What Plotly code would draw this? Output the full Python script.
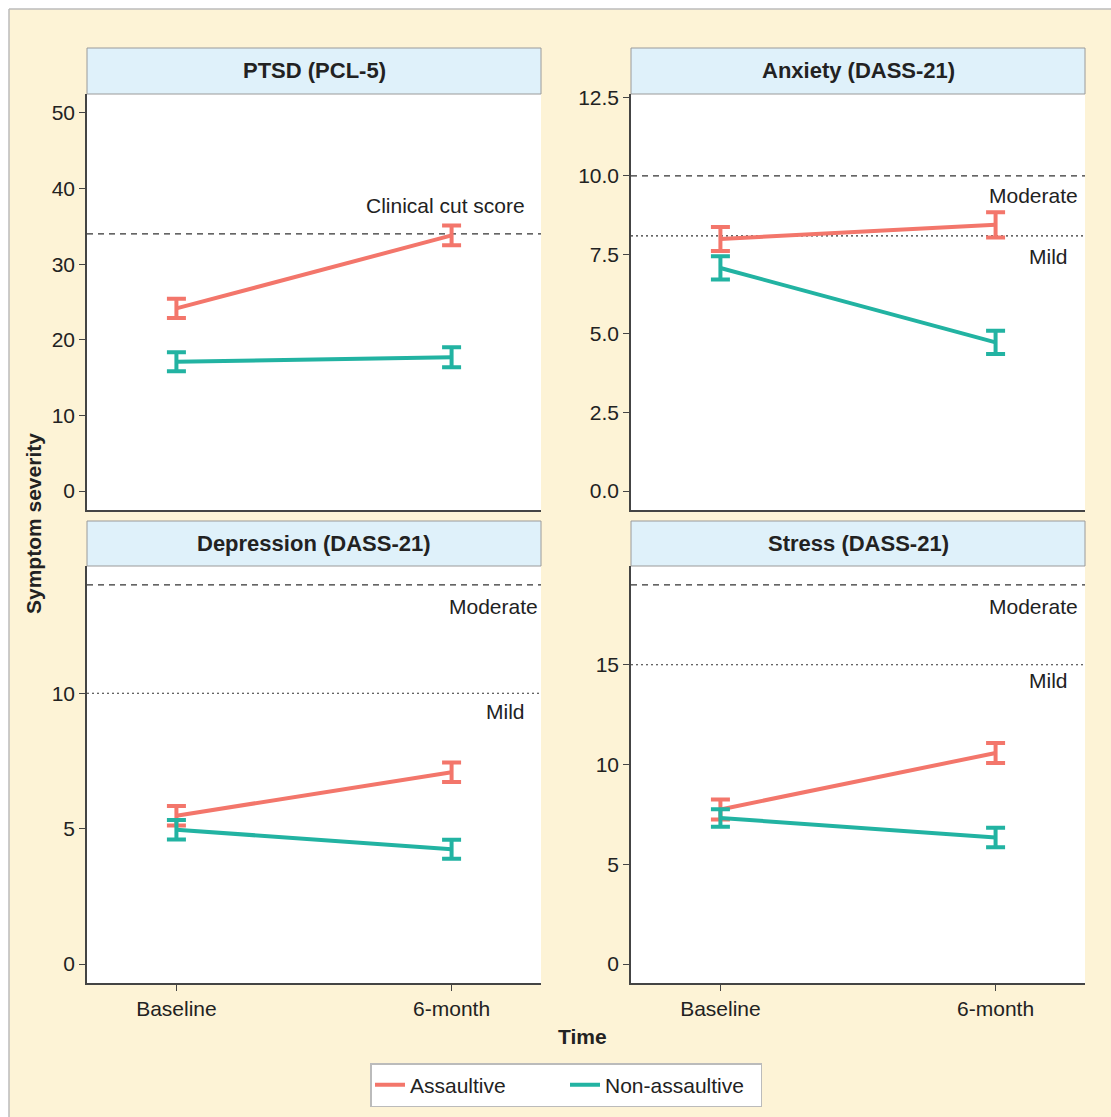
import plotly.graph_objects as go

# ---------------- data ----------------
times = ["Baseline", "6-month"]
groups = ["Assaultive", "Non-assaultive"]

panel_titles = ["PTSD (PCL-5)", "Anxiety (DASS-21)", "Depression (DASS-21)", "Stress (DASS-21)"]

ptsd_assault = [24.15, 33.8]
ptsd_assault_err = [1.28, 1.3]
ptsd_non = [17.1, 17.7]
ptsd_non_err = [1.27, 1.32]

anx_assault = [8.0, 8.45]
anx_assault_err = [0.38, 0.4]
anx_non = [7.08, 4.72]
anx_non_err = [0.37, 0.37]

dep_assault = [5.48, 7.08]
dep_assault_err = [0.36, 0.36]
dep_non = [4.96, 4.24]
dep_non_err = [0.36, 0.35]

str_assault = [7.75, 10.58]
str_assault_err = [0.5, 0.5]
str_non = [7.32, 6.34]
str_non_err = [0.44, 0.49]

# thresholds: (value, dash style key, label)
ptsd_lines = [(34, "dash", "Clinical cut score")]
anx_lines = [(10, "dash", "Moderate"), (8.1, "dot", "Mild")]
dep_lines = [(14, "dash", "Moderate"), (10, "dot", "Mild")]
str_lines = [(19, "dash", "Moderate"), (15, "dot", "Mild")]

ptsd_ticks = [0, 10, 20, 30, 40, 50]
anx_ticks = [0, 2.5, 5, 7.5, 10, 12.5]
dep_ticks = [0, 5, 10]
str_ticks = [0, 5, 10, 15]

# ---------------- layout helpers ----------------
W, H = 1111, 1117
FONT = "Liberation Sans, Arial, sans-serif"
TXT = "#222222"
AX = "#444444"
C_AS = "#F3766B"
C_NON = "#22B3A2"
CREAM = "#FDF3D6"
FS = 21

def px(x):
    return x / W

def py(y):
    return 1 - y / H

# panel pixel boxes: (x0, x1, strip_top, plot_top, plot_bottom)
boxes = [
    (87, 541, 48, 94, 510),
    (631, 1085, 48, 94, 510),
    (87, 541, 521, 566, 983),
    (631, 1085, 521, 566, 983),
]

panels = [
    (ptsd_assault, ptsd_assault_err, ptsd_non, ptsd_non_err, ptsd_lines, ptsd_ticks, [-2.5, 52.5], "d",
     [(0.969, 37.75)]),
    (anx_assault, anx_assault_err, anx_non, anx_non_err, anx_lines, anx_ticks, [-0.6, 12.6], ".1f",
     [(0.989, 9.39), (0.967, 7.43)]),
    (dep_assault, dep_assault_err, dep_non, dep_non_err, dep_lines, dep_ticks, [-0.7, 14.7], "d",
     [(0.998, 13.22), (0.969, 9.31)]),
    (str_assault, str_assault_err, str_non, str_non_err, str_lines, str_ticks, [-0.95, 19.95], "d",
     [(0.989, 17.94), (0.967, 14.2)]),
]

fig = go.Figure()
shapes = []
annotations = []

for i, (box, p) in enumerate(zip(boxes, panels)):
    n = i + 1
    xa = "x" if n == 1 else f"x{n}"
    ya = "y" if n == 1 else f"y{n}"
    a_vals, a_err, n_vals, n_err, lines, ticks, yr, fmt, label_pos = p
    x0, x1, st, pt, pb = box

    for name, vals, errs, col in [(groups[0], a_vals, a_err, C_AS), (groups[1], n_vals, n_err, C_NON)]:
        fig.add_trace(go.Scatter(
            x=times, y=vals, mode="lines", name=name, legendgroup=name,
            showlegend=(n == 1), xaxis=xa, yaxis=ya,
            line=dict(color=col, width=4),
            error_y=dict(type="data", array=errs, visible=True, color=col, thickness=4, width=9.5),
            hoverinfo="x+y+name",
        ))

    xkey = "xaxis" if n == 1 else f"xaxis{n}"
    ykey = "yaxis" if n == 1 else f"yaxis{n}"
    bottom = n >= 3
    fig.update_layout(**{
        xkey: dict(
            domain=[px(x0), px(x1)], anchor=ya, type="category",
            range=[-0.325, 1.325], showgrid=False, zeroline=False,
            showline=True, linecolor=AX, linewidth=1.5,
            ticks="outside" if bottom else "", ticklen=6, tickcolor=AX, tickwidth=1,
            showticklabels=bottom, automargin=False,
            tickfont=dict(family=FONT, size=FS, color=TXT),
        ),
        ykey: dict(
            domain=[py(pb), py(pt)], anchor=xa, range=yr,
            tickvals=ticks, tickformat=fmt, showgrid=False, zeroline=False,
            showline=True, linecolor=AX, linewidth=1.5,
            ticks="outside", ticklen=6, tickcolor=AX, tickwidth=1, automargin=False,
            tickfont=dict(family=FONT, size=FS, color=TXT),
        ),
    })

    # threshold lines + labels
    for (val, style, label), (lx, ly) in zip(lines, label_pos):
        shapes.append(dict(
            type="line", xref=f"{xa} domain", yref=ya, x0=0, x1=1, y0=val, y1=val,
            line=dict(color="#333333", width=1.2, dash="6px,5px" if style == "dash" else "2px,3px"),
            layer="below",
        ))
        annotations.append(dict(
            text=label, xref=f"{xa} domain", yref=ya, x=lx, y=ly,
            xanchor="right", yanchor="middle", showarrow=False,
            font=dict(family=FONT, size=FS, color=TXT),
        ))

    # strip
    shapes.append(dict(
        type="rect", xref="paper", yref="paper",
        x0=px(x0), x1=px(x1), y0=py(pt), y1=py(st),
        fillcolor="#DFF1FA", line=dict(color="#9A9A9A", width=1), layer="above",
    ))
    annotations.append(dict(
        text=f"<b>{panel_titles[i]}</b>", xref="paper", yref="paper",
        x=px((x0 + x1) / 2), y=py((st + pt) / 2), xanchor="center", yanchor="middle",
        showarrow=False, font=dict(family=FONT, size=22, color=TXT),
    ))

# outer white margin with thin grey border (cream panel starts at 9px)
shapes += [
    dict(type="rect", xref="paper", yref="paper", x0=0, x1=1, y0=py(9), y1=1,
         fillcolor="white", line=dict(width=0), layer="above"),
    dict(type="rect", xref="paper", yref="paper", x0=0, x1=px(9), y0=0, y1=1,
         fillcolor="white", line=dict(width=0), layer="above"),
    dict(type="line", xref="paper", yref="paper", x0=px(9), x1=1, y0=py(9), y1=py(9),
         line=dict(color="#BBBBBB", width=1.5), layer="above"),
    dict(type="line", xref="paper", yref="paper", x0=px(9), x1=px(9), y0=0, y1=py(9),
         line=dict(color="#BBBBBB", width=1.5), layer="above"),
]

# axis titles
annotations += [
    dict(text="<b>Symptom severity</b>", xref="paper", yref="paper", x=px(33), y=py(524),
         xanchor="center", yanchor="middle", textangle=-90, showarrow=False,
         font=dict(family=FONT, size=FS, color=TXT)),
    dict(text="<b>Time</b>", xref="paper", yref="paper", x=px(582), y=py(1036),
         xanchor="center", yanchor="middle", showarrow=False,
         font=dict(family=FONT, size=FS, color=TXT)),
]

fig.update_layout(
    width=W, height=H,
    margin=dict(l=0, r=0, t=0, b=0, pad=0, autoexpand=False),
    paper_bgcolor=CREAM, plot_bgcolor="white",
    shapes=shapes, annotations=annotations,
    font=dict(family=FONT, size=FS, color=TXT),
    showlegend=True,
    legend=dict(
        orientation="h", x=px(566), y=py(1063), xanchor="center", yanchor="top",
        bgcolor="white", bordercolor="#BBBBBB", borderwidth=1.5,
        font=dict(family=FONT, size=FS, color=TXT),
        entrywidth=150, entrywidthmode="pixels",
        tracegroupgap=0,
    ),
)

fig.write_html(
    "out.html",
    config={"displayModeBar": False},
    post_script="document.body.style.margin='0';document.body.style.padding='0';"
                "document.documentElement.style.overflow='hidden';",
)
